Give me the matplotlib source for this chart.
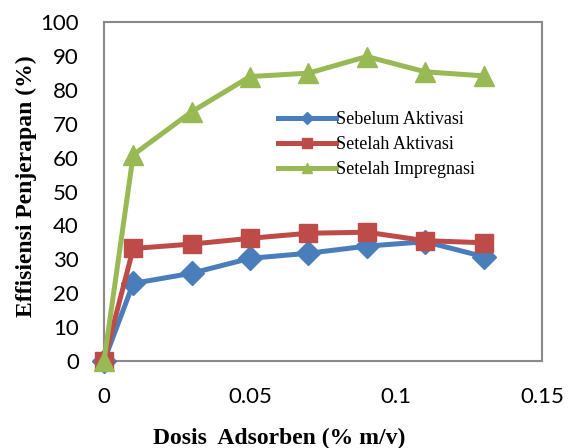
import matplotlib
matplotlib.use('Agg')
import matplotlib.pyplot as plt

# ─── Data ────────────────────────────────────────────────────────────────────
dosis = [0, 0.01, 0.03, 0.05, 0.07, 0.09, 0.11, 0.13]
sebelum_aktivasi = [0, 22.9, 25.9, 30.3, 31.8, 33.9, 35.2, 30.8]
setelah_aktivasi = [0, 33.2, 34.5, 36.2, 37.7, 38.0, 35.5, 34.9]
setelah_impregnasi = [0, 60.8, 73.5, 83.9, 84.9, 89.8, 85.3, 84.1]
series_names = ['Sebelum Aktivasi', 'Setelah Aktivasi', 'Setelah Impregnasi']

BLUE = '#4A7EBB'
RED = '#BE4B48'
GREEN = '#98B954'
FRAME = '#898989'

# ─── Canvas ──────────────────────────────────────────────────────────────────
fig = plt.figure(figsize=(5.73, 4.48), dpi=100)
ax = fig.add_axes([0.1815, 0.194, 0.7645, 0.757])

ax.plot(dosis, sebelum_aktivasi, color=BLUE, lw=3.6, marker='D', ms=12,
        label=series_names[0], clip_on=False, zorder=3)
ax.plot(dosis, setelah_aktivasi, color=RED, lw=3.6, marker='s', ms=13,
        label=series_names[1], clip_on=False, zorder=4)
ax.plot(dosis, setelah_impregnasi, color=GREEN, lw=3.6, marker='^', ms=14,
        label=series_names[2], clip_on=False, zorder=5)

ax.set_xlim(0, 0.15)
ax.set_ylim(0, 100)
ax.set_xticks([0, 0.05, 0.1, 0.15])
ax.set_xticklabels(['0', '0.05', '0.1', '0.15'])
ax.set_yticks(range(0, 101, 10))

for s in ax.spines.values():
    s.set_color(FRAME)
    s.set_linewidth(1.5)

ax.tick_params(axis='both', length=0, labelsize=16, colors='black')
ax.tick_params(axis='x', pad=19)
ax.tick_params(axis='y', pad=18)
for lbl in ax.get_xticklabels() + ax.get_yticklabels():
    lbl.set_family(['Lato', 'DejaVu Sans'])

ax.set_xlabel('Dosis  Adsorben (% m/v)', family='Liberation Serif',
              fontweight='bold', fontsize=17)
ax.set_ylabel('Effisiensi Penjerapan (%)', family='Liberation Serif',
              fontweight='bold', fontsize=17)
ax.xaxis.set_label_coords(0.40, -0.227)
ax.xaxis.label.set_va('center')
ax.yaxis.set_label_coords(-0.178, 0.515)
ax.yaxis.label.set_va('center')

leg = ax.legend(loc='upper left', bbox_to_anchor=(0.36, 0.785), frameon=False,
                prop={'family': 'Liberation Serif', 'size': 13},
                handlelength=3.2, handletextpad=0.0, labelspacing=0.45,
                markerscale=0.5)

fig.savefig('out.png', dpi=100, facecolor='white')
